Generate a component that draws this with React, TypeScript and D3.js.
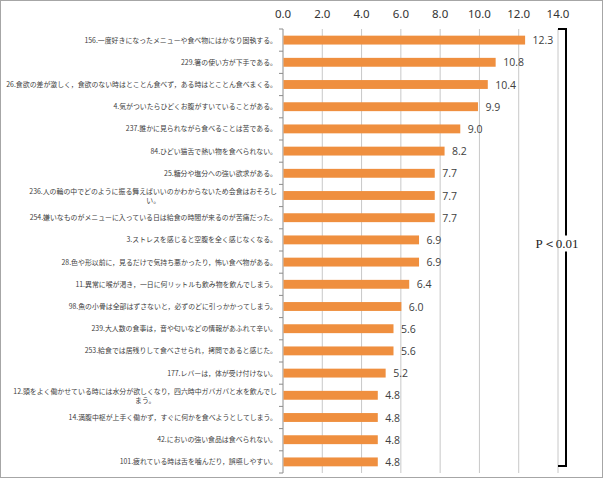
import React, { useRef, useEffect } from 'react';
import * as d3 from 'd3';

// items (top to bottom) and their scores
const items = [
  '156.一度好きになったメニューや食べ物にはかなり固執する。',
  '229.箸の使い方が下手である。',
  '26.食欲の差が激しく，食欲のない時はとことん食べず，ある時はとことん食べまくる。',
  '4.気がついたらひどくお腹がすいていることがある。',
  '237.誰かに見られながら食べることは苦である。',
  '84.ひどい猫舌で熱い物を食べられない。',
  '25.糖分や塩分への強い欲求がある。',
  '236.人の輪の中でどのように振る舞えばいいのかわからないため会食はおそろし|い。',
  '254.嫌いなものがメニューに入っている日は給食の時間が来るのが苦痛だった。',
  '3.ストレスを感じると空腹を全く感じなくなる。',
  '28.色や形以前に，見るだけで気持ち悪かったり，怖い食べ物がある。',
  '11.異常に喉が渇き，一日に何リットルも飲み物を飲んでしまう。',
  '98.魚の小骨は全部はずさないと，必ずのどに引っかかってしまう。',
  '239.大人数の食事は，音や匂いなどの情報があふれて辛い。',
  '253.給食では居残りして食べさせられ，拷問であると感じた。',
  '177.レバーは，体が受け付けない。',
  '12.頭をよく働かせている時には水分が欲しくなり，四六時中ガバガバと水を飲んでし|まう。',
  '14.満腹中枢が上手く働かず，すぐに何かを食べようとしてしまう。',
  '42.においの強い食品は食べられない。',
  '101.疲れている時は舌を噛んだり，誤嚥しやすい。'
];
const scores = [12.3, 10.8, 10.4, 9.9, 9.0, 8.2, 7.7, 7.7, 7.7, 6.9, 6.9, 6.4, 6.0, 5.6, 5.6, 5.2, 4.8, 4.8, 4.8, 4.8];
const xTicks = [0, 2, 4, 6, 8, 10, 12, 14];
const noteText = 'P＜0.01';

const config = { w: 603, h: 478, left: 283, right: 558, top: 29, bottom: 473 };

export default function App() {
  const svgRef = useRef(null);

  useEffect(() => {
    const svg = d3.select(svgRef.current);
    svg.selectAll('*').remove();

    const x = d3.scaleLinear().domain([0, 14]).range([config.left, config.right]);
    const y = d3.scaleBand().domain(items).range([config.top, config.bottom]).paddingInner(0.6).paddingOuter(0.3);

    svg.append('rect')
      .attr('x', 0.5).attr('y', 0.5)
      .attr('width', config.w - 1).attr('height', config.h - 1)
      .attr('fill', '#fff').attr('stroke', '#a6a6a6');

    // gridlines
    svg.append('g').selectAll('line')
      .data(xTicks.slice(1))
      .join('line')
      .attr('x1', d => x(d)).attr('x2', d => x(d))
      .attr('y1', config.top).attr('y2', config.bottom)
      .attr('stroke', '#c8c8c8').attr('stroke-width', 1);

    // top tick labels
    svg.append('g').selectAll('text')
      .data(xTicks)
      .join('text')
      .attr('x', d => x(d))
      .attr('y', 18)
      .attr('text-anchor', 'middle')
      .attr('font-family', '"Noto Sans", sans-serif')
      .attr('font-size', 11.5)
      .attr('fill', '#333')
      .text(d => d.toFixed(1));

    // category axis
    svg.append('line')
      .attr('x1', config.left).attr('x2', config.left)
      .attr('y1', config.top).attr('y2', config.bottom)
      .attr('stroke', '#8c8c8c');
    svg.append('g').selectAll('line')
      .data(d3.range(items.length + 1))
      .join('line')
      .attr('x1', config.left - 4).attr('x2', config.left)
      .attr('y1', i => config.top + i * (config.bottom - config.top) / items.length)
      .attr('y2', i => config.top + i * (config.bottom - config.top) / items.length)
      .attr('stroke', '#8c8c8c');

    // bars
    svg.append('g').selectAll('rect')
      .data(items)
      .join('rect')
      .attr('x', x(0) + 0.5)
      .attr('y', d => y(d))
      .attr('width', (d, i) => x(scores[i]) - x(0))
      .attr('height', y.bandwidth())
      .attr('fill', '#ef8f3f');

    // value labels
    svg.append('g').selectAll('text')
      .data(items)
      .join('text')
      .attr('x', (d, i) => x(scores[i]) + 8)
      .attr('y', d => y(d) + y.bandwidth() / 2 + 4)
      .attr('font-family', '"Open Sans", sans-serif')
      .attr('font-size', 10.5)
      .attr('fill', '#404040')
      .text((d, i) => scores[i].toFixed(1));

    // item labels
    const labelRight = config.left - 6;
    const lg = svg.append('g')
      .attr('font-family', '"Noto Sans CJK JP", sans-serif')
      .attr('font-size', 6.9)
      .attr('fill', '#404040');
    items.forEach(d => {
      const parts = d.split('|');
      const cy = y(d) + y.bandwidth() / 2;
      if (parts.length === 1) {
        lg.append('text')
          .attr('x', labelRight).attr('y', cy + 2.4)
          .attr('text-anchor', 'end')
          .text(parts[0]);
      } else {
        const t1 = lg.append('text')
          .attr('x', labelRight).attr('y', cy - 1.8)
          .attr('text-anchor', 'end')
          .text(parts[0]);
        const bb = t1.node().getBBox();
        lg.append('text')
          .attr('x', bb.x + bb.width / 2).attr('y', cy + 7.4)
          .attr('text-anchor', 'middle')
          .text(parts[1]);
      }
    });

    // significance bracket
    const bx = x(14) + 8;
    const by1 = y(items[0]) + y.bandwidth() / 2 - 11;
    const by2 = y(items[items.length - 1]) + y.bandwidth() / 2 + 4;
    svg.append('path')
      .attr('d', `M${x(14)},${by1}H${bx}V${by2}H${x(14)}`)
      .attr('fill', 'none')
      .attr('stroke', '#000')
      .attr('stroke-width', 2);
    const midY = (by1 + by2) / 2 - 4;
    svg.append('rect')
      .attr('x', bx - 4).attr('y', midY - 8)
      .attr('width', 8).attr('height', 16)
      .attr('fill', '#fff');
    svg.append('text')
      .attr('x', bx - 9).attr('y', midY + 4.5)
      .attr('text-anchor', 'middle')
      .attr('font-family', '"Liberation Serif", serif')
      .attr('font-size', 13)
      .attr('fill', '#222')
      .text(noteText);
  }, []);

  return (
    <div style={{ position: 'absolute', left: 0, top: 0 }}>
      <svg ref={svgRef} width={config.w} height={config.h} style={{ display: 'block' }}></svg>
    </div>
  );
}
